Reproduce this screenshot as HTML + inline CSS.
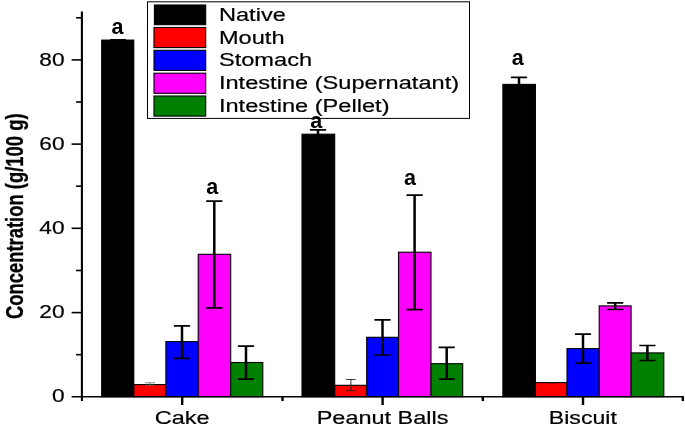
<!DOCTYPE html>
<html><head><meta charset="utf-8"><title>Concentration chart</title>
<style>
html,body{margin:0;padding:0;background:#fff;}
body{width:685px;height:428px;overflow:hidden;}
svg{display:block;}
text{font-family:"Liberation Sans",sans-serif;fill:#000;}
.t{stroke:#000;stroke-width:0.2;}
.b{font-weight:bold;}
</style></head><body>
<svg width="685" height="428" viewBox="0 0 685 428">
<rect x="0" y="0" width="685" height="428" fill="#fff"/>
<rect x="101.7" y="40.1" width="32.1" height="356.6" fill="#000000" stroke="#000" stroke-width="1.1"/>
<rect x="133.9" y="384.6" width="32.0" height="12.1" fill="#ff0000" stroke="#000" stroke-width="1.1"/>
<rect x="165.9" y="341.6" width="32.3" height="55.1" fill="#0000ff" stroke="#000" stroke-width="1.1"/>
<rect x="198.2" y="254.3" width="32.5" height="142.4" fill="#ff00ff" stroke="#000" stroke-width="1.1"/>
<rect x="230.7" y="362.5" width="32.1" height="34.2" fill="#008000" stroke="#000" stroke-width="1.1"/>
<rect x="302.0" y="134.2" width="32.7" height="262.5" fill="#000000" stroke="#000" stroke-width="1.1"/>
<rect x="334.8" y="385.3" width="31.9" height="11.4" fill="#ff0000" stroke="#000" stroke-width="1.1"/>
<rect x="366.7" y="337.3" width="31.8" height="59.4" fill="#0000ff" stroke="#000" stroke-width="1.1"/>
<rect x="398.5" y="252.2" width="32.5" height="144.5" fill="#ff00ff" stroke="#000" stroke-width="1.1"/>
<rect x="431.0" y="363.7" width="31.7" height="33.0" fill="#008000" stroke="#000" stroke-width="1.1"/>
<rect x="502.9" y="84.4" width="32.5" height="312.3" fill="#000000" stroke="#000" stroke-width="1.1"/>
<rect x="535.5" y="382.6" width="31.5" height="14.1" fill="#ff0000" stroke="#000" stroke-width="1.1"/>
<rect x="567.0" y="348.6" width="32.2" height="48.1" fill="#0000ff" stroke="#000" stroke-width="1.1"/>
<rect x="599.2" y="305.9" width="31.9" height="90.8" fill="#ff00ff" stroke="#000" stroke-width="1.1"/>
<rect x="631.1" y="352.9" width="32.7" height="43.8" fill="#008000" stroke="#000" stroke-width="1.1"/>
<path d="M118.1 39.8V41.1" stroke="#000" stroke-width="2.5" fill="none"/>
<path d="M110.2 39.8H126.0M110.2 41.1H126.0" stroke="#000" stroke-width="1.7" fill="none"/>
<path d="M150.0 382.8V385.2M145.0 382.8H155.0M145.0 385.2H155.0" stroke="#666" stroke-width="0.8" fill="none"/>
<path d="M182.0 325.8V358.3" stroke="#000" stroke-width="2.5" fill="none"/>
<path d="M173.9 325.8H190.1M173.9 358.3H190.1" stroke="#000" stroke-width="1.7" fill="none"/>
<path d="M214.3 201.2V307.9" stroke="#000" stroke-width="2.5" fill="none"/>
<path d="M206.2 201.2H222.4M206.2 307.9H222.4" stroke="#000" stroke-width="1.7" fill="none"/>
<path d="M246.0 346.2V379.1" stroke="#000" stroke-width="2.5" fill="none"/>
<path d="M237.9 346.2H254.1M237.9 379.1H254.1" stroke="#000" stroke-width="1.7" fill="none"/>
<path d="M318.0 129.8V138.2" stroke="#000" stroke-width="2.5" fill="none"/>
<path d="M309.9 129.8H326.1M309.9 138.2H326.1" stroke="#000" stroke-width="1.7" fill="none"/>
<path d="M350.9 379.5V390.6M346.2 379.5H355.6M346.2 390.6H355.6" stroke="#222" stroke-width="0.9" fill="none"/>
<path d="M382.5 319.8V355.0" stroke="#000" stroke-width="2.5" fill="none"/>
<path d="M374.4 319.8H390.6M374.4 355.0H390.6" stroke="#000" stroke-width="1.7" fill="none"/>
<path d="M414.6 195.2V309.6" stroke="#000" stroke-width="2.5" fill="none"/>
<path d="M406.5 195.2H422.7M406.5 309.6H422.7" stroke="#000" stroke-width="1.7" fill="none"/>
<path d="M446.7 347.4V379.1" stroke="#000" stroke-width="2.5" fill="none"/>
<path d="M438.6 347.4H454.8M438.6 379.1H454.8" stroke="#000" stroke-width="1.7" fill="none"/>
<path d="M519.0 77.4V90.2" stroke="#000" stroke-width="2.5" fill="none"/>
<path d="M510.9 77.4H527.1M510.9 90.2H527.1" stroke="#000" stroke-width="1.7" fill="none"/>
<path d="M551.3 382.6V382.6M546.3 382.6H556.3M546.3 382.6H556.3" stroke="#111" stroke-width="1.2" fill="none"/>
<path d="M583.0 334.2V363.1" stroke="#000" stroke-width="2.5" fill="none"/>
<path d="M574.9 334.2H591.1M574.9 363.1H591.1" stroke="#000" stroke-width="1.7" fill="none"/>
<path d="M615.2 302.8V309.5" stroke="#000" stroke-width="2.5" fill="none"/>
<path d="M607.1 302.8H623.3M607.1 309.5H623.3" stroke="#000" stroke-width="1.7" fill="none"/>
<path d="M647.4 345.5V360.5" stroke="#000" stroke-width="2.5" fill="none"/>
<path d="M639.3 345.5H655.5M639.3 360.5H655.5" stroke="#000" stroke-width="1.7" fill="none"/>
<g stroke="#000" fill="none">
<path d="M81.9 11.4V401" stroke-width="2.1"/>
<path d="M71.6 396.7H683.8" stroke-width="1.5"/>
<path d="M76.1 354.7H82" stroke-width="1.6"/>
<path d="M71.6 312.6H82" stroke-width="1.6"/>
<path d="M76.1 270.5H82" stroke-width="1.6"/>
<path d="M71.6 228.3H82" stroke-width="1.6"/>
<path d="M76.1 186.2H82" stroke-width="1.6"/>
<path d="M71.6 144.1H82" stroke-width="1.6"/>
<path d="M76.1 102.0H82" stroke-width="1.6"/>
<path d="M71.6 59.9H82" stroke-width="1.6"/>
<path d="M76.1 17.8H82" stroke-width="1.6"/>
<path d="M182.2 396.7V405" stroke-width="2.4"/>
<path d="M382.6 396.7V405" stroke-width="2.4"/>
<path d="M583.0 396.7V405" stroke-width="2.4"/>
<path d="M282.5 396.7V401" stroke-width="2.4"/>
<path d="M482.8 396.7V401" stroke-width="2.4"/>
<path d="M682.8 396.7V401" stroke-width="2.4"/>
</g>
<text class="t" transform="translate(64.6 402.3) scale(1.195 1)" font-size="19" text-anchor="end">0</text>
<text class="t" transform="translate(64.6 318.1) scale(1.195 1)" font-size="19" text-anchor="end">20</text>
<text class="t" transform="translate(64.6 233.8) scale(1.195 1)" font-size="19" text-anchor="end">40</text>
<text class="t" transform="translate(64.6 149.6) scale(1.195 1)" font-size="19" text-anchor="end">60</text>
<text class="t" transform="translate(64.6 66.0) scale(1.195 1)" font-size="19" text-anchor="end">80</text>
<text class="t" transform="translate(182.2 423.9) scale(1.263 1)" font-size="18.6" text-anchor="middle">Cake</text>
<text class="t" transform="translate(382.6 423.9) scale(1.263 1)" font-size="18.6" text-anchor="middle">Peanut Balls</text>
<text class="t" transform="translate(582.8 423.9) scale(1.243 1)" font-size="18.6" text-anchor="middle">Biscuit</text>
<text class="b" transform="translate(22.8 319.1) rotate(-90) scale(0.8375 1.09)" font-size="22" stroke="#000" stroke-width="0.3">Concentration (g/100 g)</text>
<rect x="147.5" y="1.8" width="322.0" height="116.6" fill="#fff" stroke="#000" stroke-width="1"/>
<rect x="154.4" y="5.0" width="51.300000000000004" height="19.700000000000003" fill="#000000" stroke="#000" stroke-width="1.1"/>
<text class="t" transform="translate(218.9 20.9) scale(1.263 1)" font-size="18.7">Native</text>
<rect x="154" y="27.5" width="51.7" height="20.1" fill="#ff0000" stroke="#000" stroke-width="1.1"/>
<text class="t" transform="translate(218.9 43.7) scale(1.263 1)" font-size="18.7">Mouth</text>
<rect x="154" y="50.3" width="51.7" height="20.1" fill="#0000ff" stroke="#000" stroke-width="1.1"/>
<text class="t" transform="translate(218.9 66.4) scale(1.263 1)" font-size="18.7">Stomach</text>
<rect x="154" y="73.2" width="51.7" height="20.1" fill="#ff00ff" stroke="#000" stroke-width="1.1"/>
<text class="t" transform="translate(218.9 89.1) scale(1.263 1)" font-size="18.7">Intestine (Supernatant)</text>
<rect x="154" y="96.0" width="51.7" height="20.1" fill="#008000" stroke="#000" stroke-width="1.1"/>
<text class="t" transform="translate(218.9 111.9) scale(1.263 1)" font-size="18.7">Intestine (Pellet)</text>
<text class="b" x="117.4" y="34.1" font-size="21.5" text-anchor="middle">a</text>
<text class="b" x="212.2" y="194.0" font-size="21.5" text-anchor="middle">a</text>
<text class="b" x="316.2" y="127.7" font-size="21.5" text-anchor="middle">a</text>
<text class="b" x="409.9" y="185.4" font-size="21.5" text-anchor="middle">a</text>
<text class="b" x="517.8" y="65.2" font-size="21.5" text-anchor="middle">a</text>
</svg>
</body></html>
